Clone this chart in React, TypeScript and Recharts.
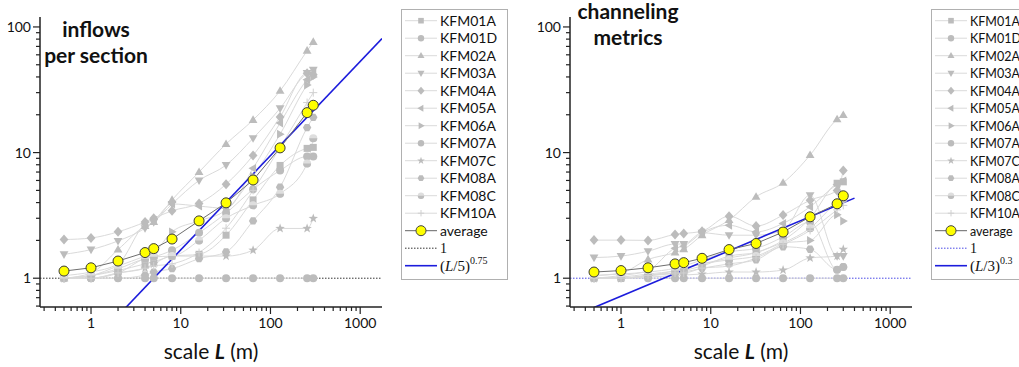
import React from "react";
import { LineChart, Line, XAxis, YAxis, ReferenceLine, Legend } from "recharts";

type Shape =
  | "square"
  | "circle"
  | "triangle"
  | "triangleDown"
  | "diamond"
  | "triangleLeft"
  | "triangleRight"
  | "star"
  | "hexagon"
  | "halfCircle"
  | "plus";

// scale L (m) at which every borehole was evaluated
const scales = [0.5, 1, 2, 4, 5, 8, 16, 32, 64, 128, 256, 300];

const wells = [
  "KFM01A", "KFM01D", "KFM02A", "KFM03A", "KFM04A", "KFM05A",
  "KFM06A", "KFM07A", "KFM07C", "KFM08A", "KFM08C", "KFM10A",
];
const wellShapes: Shape[] = [
  "square", "circle", "triangle", "triangleDown", "diamond", "triangleLeft",
  "triangleRight", "circle", "star", "hexagon", "halfCircle", "plus",
];

// inflows per section
const inflowKFM01A = [1.0, 1.05, 1.15, 1.3, 1.35, 1.5, 1.55, 2.2, 4.2, 7.9, 10.8, 11.0];
const inflowKFM01D = [1.0, 1.0, 1.1, 1.43, 1.48, 1.67, 2.3, 3.3, 5.1, 7.2, 9.3, 9.3];
const inflowKFM02A = [1.0, 1.1, 1.69, 2.6, 2.8, 4.2, 7.0, 11.7, 18.2, 31, 64.7, 76];
const inflowKFM03A = [1.55, 1.69, 1.98, 2.5, 2.8, 3.9, 6.0, 7.95, 13, 22.5, 43, 45.6];
const inflowKFM04A = [2.03, 2.09, 2.34, 2.8, 3.0, 3.44, 3.94, 5.6, 9.5, 19.2, 42.8, 41.7];
const inflowKFM05A = [1.05, 1.12, 1.3, 2.7, 2.9, 3.9, 3.75, 3.6, 7.5, 17.2, 38, 43];
const inflowKFM06A = [1.0, 1.05, 1.25, 1.5, 1.6, 2.34, 2.86, 3.5, 6.5, 14, 34.5, 40];
const inflowKFM07A = [1, 1, 1, 1, 1, 1, 1, 1, 1, 1, 1, 1];
const inflowKFM07C = [1.0, 1.0, 1.1, 1.2, 1.3, 1.5, 1.5, 1.5, 1.67, 2.49, 2.49, 2.99];
const inflowKFM08A = [1.0, 1.0, 1.0, 1.06, 1.12, 1.19, 1.43, 1.62, 2.86, 5.3, 15.8, 19.1];
const inflowKFM08C = [1.0, 1.05, 1.19, 1.43, 1.48, 1.5, 2.0, 3.0, 3.8, 4.7, 8.2, 13];
const inflowKFM10A = [1.0, 1.0, 1.1, 1.2, 1.25, 1.3, 1.6, 2.5, 5.0, 11, 25, 30];
const inflowAverage = [1.14, 1.21, 1.37, 1.6, 1.72, 2.05, 2.86, 3.98, 6.05, 10.9, 20.8, 23.8];

// channeling metrics
const channelKFM01A = [1.0, 1.0, 1.05, 1.15, 1.2, 1.3, 1.45, 1.6, 2.0, 3.0, 5.7, 5.85];
const channelKFM01D = [1.05, 1.08, 1.12, 1.2, 1.25, 1.4, 1.62, 1.73, 2.13, 2.8, 1.17, 1.23];
const channelKFM02A = [1.05, 1.1, 1.41, 1.6, 1.7, 2.2, 2.9, 4.45, 5.75, 9.55, 18.4, 19.9];
const channelKFM03A = [1.46, 1.5, 1.64, 1.87, 1.87, 2.3, 2.2, 2.2, 2.4, 4.58, 1.5, 1.5];
const channelKFM04A = [2.01, 2.01, 2.0, 2.23, 2.27, 2.37, 3.12, 2.6, 3.18, 4.18, 5.0, 7.2];
const channelKFM05A = [1.0, 1.05, 1.15, 1.73, 1.8, 2.3, 2.64, 2.34, 2.73, 3.7, 5.58, 5.96];
const channelKFM06A = [1.0, 1.0, 1.05, 1.1, 1.15, 1.25, 1.5, 1.6, 1.9, 2.0, 3.2, 2.85];
const channelKFM07A = [1, 1, 1, 1, 1, 1, 1, 1, 1, 1, 1, 1];
const channelKFM07C = [1.0, 1.0, 1.02, 1.05, 1.06, 1.08, 1.12, 1.12, 1.16, 1.45, 1.5, 1.7];
const channelKFM08A = [1.0, 1.0, 1.05, 1.1, 1.12, 1.2, 1.3, 1.4, 1.78, 1.7, 1.17, 1.23];
const channelKFM08C = [1.0, 1.02, 1.08, 1.15, 1.2, 1.3, 1.4, 1.5, 1.9, 2.5, 4.0, 4.3];
const channelKFM10A = [1.0, 1.0, 1.05, 1.1, 1.1, 1.2, 1.25, 1.45, 1.85, 2.4, 3.5, 3.8];
const channelAverage = [1.12, 1.15, 1.21, 1.3, 1.33, 1.44, 1.69, 1.89, 2.33, 3.08, 3.91, 4.53];

// power-law guides (L / base)^exponent, drawn between two scales
const inflowFit = { base: 5, exponent: 0.75, from: 0.5, to: 1750 };
const channelFit = { base: 3, exponent: 0.3, from: 0.5, to: 400 };

const X_DOMAIN: [number, number] = [0.27, 1750];
const Y_DOMAIN: [number, number] = [0.59, 120];

const SANS = "Lato, 'Open Sans', sans-serif";
const SERIF = "'Liberation Serif', 'DejaVu Serif', serif";
const INK = "#111";
const AXIS = "#222";
const GREY = "#bcbcbc";
const LINE_GREY = "#dadada";
const BLUE = "#1c1cdc";

const logTicks = (lo: number, hi: number) => {
  const out: number[] = [];
  for (let e = Math.floor(Math.log10(lo)); e <= Math.ceil(Math.log10(hi)); e++) {
    for (let m = 1; m <= 9; m++) {
      const v = m * Math.pow(10, e);
      if (v >= lo && v <= hi) out.push(v);
    }
  }
  return out;
};
const xTicks = logTicks(X_DOMAIN[0], X_DOMAIN[1]);
const yTicks = logTicks(Y_DOMAIN[0], Y_DOMAIN[1]);
const isDecade = (v: number) => Math.abs(Math.log10(v) - Math.round(Math.log10(v))) < 1e-6;

function buildRows(series: number[][], average: number[]) {
  return scales.map((L, i) => {
    const row: Record<string, number> = { L, average: average[i] };
    wells.forEach((w, k) => (row[w] = series[k][i]));
    return row;
  });
}

function fitLine(fit: { base: number; exponent: number; from: number; to: number }) {
  return [fit.from, fit.to].map((L) => ({ L, fit: Math.pow(L / fit.base, fit.exponent) }));
}

const pts = (list: number[][], x: number, y: number, s: number) =>
  list.map(([a, b]) => `${x + a * s},${y + b * s}`).join(" ");

function Marker({ shape, x, y, s = 1 }: { shape: Shape; x: number; y: number; s?: number }) {
  switch (shape) {
    case "square":
      return <rect x={x - 3.5 * s} y={y - 3.5 * s} width={7 * s} height={7 * s} fill={GREY} />;
    case "circle":
      return <circle cx={x} cy={y} r={4 * s} fill={GREY} />;
    case "triangle":
      return <polygon points={pts([[0, -4.6], [4.4, 3], [-4.4, 3]], x, y, s)} fill={GREY} />;
    case "triangleDown":
      return <polygon points={pts([[0, 4.6], [4.4, -3], [-4.4, -3]], x, y, s)} fill={GREY} />;
    case "triangleLeft":
      return <polygon points={pts([[-4.6, 0], [3, 4.4], [3, -4.4]], x, y, s)} fill={GREY} />;
    case "triangleRight":
      return <polygon points={pts([[4.6, 0], [-3, 4.4], [-3, -4.4]], x, y, s)} fill={GREY} />;
    case "diamond":
      return <polygon points={pts([[0, -5], [4.4, 0], [0, 5], [-4.4, 0]], x, y, s)} fill={GREY} />;
    case "hexagon": {
      const hex = [0, 1, 2, 3, 4, 5].map((k) => [4.2 * Math.cos((k * Math.PI) / 3), 4.2 * Math.sin((k * Math.PI) / 3)]);
      return <polygon points={pts(hex, x, y, s)} fill={GREY} />;
    }
    case "halfCircle":
      return (
        <g>
          <circle cx={x} cy={y} r={4 * s} fill="#dedede" />
          <path d={`M${x - 4 * s},${y} A${4 * s},${4 * s} 0 0 0 ${x + 4 * s},${y} Z`} fill={GREY} />
        </g>
      );
    case "star": {
      const star: number[][] = [];
      for (let k = 0; k < 10; k++) {
        const r = k % 2 === 0 ? 5 : 2;
        const a = -Math.PI / 2 + (k * Math.PI) / 5;
        star.push([r * Math.cos(a), r * Math.sin(a)]);
      }
      return <polygon points={pts(star, x, y, s)} fill={GREY} />;
    }
    case "plus":
      return (
        <g stroke="#d0d0d0" strokeWidth={1}>
          <line x1={x - 4 * s} x2={x + 4 * s} y1={y} y2={y} />
          <line x1={x} x2={x} y1={y - 4 * s} y2={y + 4 * s} />
        </g>
      );
  }
  return null;
}

const XTick = (props: any) => {
  const { x, y, payload } = props;
  const v = payload.value as number;
  const major = isDecade(v);
  return (
    <g>
      <line x1={x} x2={x} y1={y} y2={y + (major ? 7 : 4)} stroke={AXIS} strokeWidth={1.2} />
      {major && (
        <text x={x} y={y + 21} textAnchor="middle" fontSize={14} fontFamily={SANS} fill={INK}>
          {Math.round(v)}
        </text>
      )}
    </g>
  );
};

const YTick = (props: any) => {
  const { x, y, payload } = props;
  const v = payload.value as number;
  const major = isDecade(v);
  return (
    <g>
      <line x1={x - (major ? 7 : 4)} x2={x} y1={y} y2={y} stroke={AXIS} strokeWidth={1.2} />
      {major && (
        <text x={x - 9} y={y + 5} textAnchor="end" fontSize={14} fontFamily={SANS} fill={INK}>
          {Math.round(v)}
        </text>
      )}
    </g>
  );
};

const AxisTitle = (props: any) => {
  const { x, y, width } = props.viewBox;
  return (
    <text x={x + width / 2} y={y + 52} textAnchor="middle" fontSize={21} fontFamily={SANS} fill={INK}>
      <tspan>scale{"\u00a0"}</tspan>
      <tspan fontWeight={700} fontStyle="italic">L</tspan>
      <tspan>{"\u00a0"}(m)</tspan>
    </text>
  );
};

const ROW = 17.5;

function LegendBox({
  unityStroke,
  fitBase,
  fitExponent,
  fontSize,
}: {
  unityStroke: string;
  fitBase: number;
  fitExponent: number;
  fontSize: number;
}) {
  const rowY = (i: number) => 11.7 + i * ROW;
  return (
    <svg width={108} height={271} style={{ display: "block" }}>
      <rect x={0.5} y={0.5} width={106} height={270} fill="#fff" stroke="#b0b0b0" />
      {wells.map((w, i) => (
        <g key={w}>
          <line x1={4} x2={36} y1={rowY(i)} y2={rowY(i)} stroke={LINE_GREY} />
          <Marker shape={wellShapes[i]} x={20} y={rowY(i)} s={0.8} />
          <text x={39} y={rowY(i) + 5} fontSize={fontSize} fontFamily={SANS} fill={INK}>
            {w}
          </text>
        </g>
      ))}
      <line x1={4} x2={36} y1={rowY(12)} y2={rowY(12)} stroke="#666" />
      <circle cx={20} cy={rowY(12)} r={5} fill="#ffff00" stroke="#444" />
      <text x={39} y={rowY(12) + 5} fontSize={fontSize} fontFamily={SANS} fill={INK}>
        average
      </text>
      <line x1={4} x2={36} y1={rowY(13)} y2={rowY(13)} stroke={unityStroke} strokeDasharray="1.5 1.5" />
      <text x={39} y={rowY(13) + 5} fontSize={14} fontFamily={SERIF} fill={INK}>
        1
      </text>
      <line x1={4} x2={36} y1={rowY(14)} y2={rowY(14)} stroke={BLUE} strokeWidth={1.6} />
      <text x={39} y={rowY(14) + 5} fontSize={15} fontFamily={SERIF} fill={INK}>
        <tspan>(</tspan>
        <tspan fontStyle="italic">L</tspan>
        <tspan>/{fitBase})</tspan>
        <tspan fontSize={10} dy={-7}>{fitExponent}</tspan>
      </text>
    </svg>
  );
}

function Panel({
  left,
  series,
  average,
  fit,
  unityStroke,
  titles,
  legendFont,
}: {
  left: number;
  series: number[][];
  average: number[];
  fit: { base: number; exponent: number; from: number; to: number };
  unityStroke: string;
  titles: { text: string; y: number }[];
  legendFont: number;
}) {
  const rows = buildRows(series, average);
  const fitRows = fitLine(fit);
  const titleX = left === 0 ? 96 : 98;
  return (
    <div style={{ position: "absolute", left, top: 0, width: 520, height: 367 }}>
      <LineChart width={520} height={367} data={rows} margin={{ top: 17, right: 138, bottom: 0, left: 0 }}>
        <XAxis
          dataKey="L"
          type="number"
          scale="log"
          domain={X_DOMAIN}
          allowDataOverflow
          ticks={xTicks}
          interval={0}
          tick={<XTick />}
          tickLine={false}
          tickSize={0}
          tickMargin={0}
          height={60}
          axisLine={{ stroke: AXIS, strokeWidth: 1.5 }}
          label={<AxisTitle />}
        />
        <YAxis
          type="number"
          scale="log"
          domain={Y_DOMAIN}
          allowDataOverflow
          ticks={yTicks}
          interval={0}
          tick={<YTick />}
          tickLine={false}
          tickSize={0}
          tickMargin={0}
          width={40}
          axisLine={{ stroke: AXIS, strokeWidth: 1.5 }}
        />
        <Legend
          layout="vertical"
          align="center"
          verticalAlign="middle"
          wrapperStyle={{ left: 401, top: 9, width: 108, height: 271 }}
          content={() => (
            <LegendBox unityStroke={unityStroke} fitBase={fit.base} fitExponent={fit.exponent} fontSize={legendFont} />
          )}
        />
        <ReferenceLine y={1} stroke={unityStroke} strokeDasharray="1.5 1.5" strokeWidth={1} />
        {wells.map((w, k) => (
          <Line
            key={w}
            dataKey={w}
            type="monotone"
            stroke={LINE_GREY}
            strokeWidth={1}
            isAnimationActive={false}
            dot={(p: any) => <Marker key={`${w}-${p.index}`} shape={wellShapes[k]} x={p.cx} y={p.cy} />}
            activeDot={false}
          />
        ))}
        <Line
          data={fitRows}
          dataKey="fit"
          type="linear"
          stroke={BLUE}
          strokeWidth={1.6}
          dot={false}
          activeDot={false}
          isAnimationActive={false}
        />
        <Line
          dataKey="average"
          type="linear"
          stroke="#6e6e6e"
          strokeWidth={1}
          dot={{ r: 5, fill: "#ffff00", stroke: "#3a3a3a", strokeWidth: 1 }}
          activeDot={false}
          isAnimationActive={false}
        />
      </LineChart>
      <svg width={520} height={80} style={{ position: "absolute", left: 0, top: 0, pointerEvents: "none" }}>
        {titles.map((t) => (
          <text key={t.text} x={titleX} y={t.y} textAnchor="middle" fontSize={21} fontWeight={700} fontFamily={SANS} fill={INK}>
            {t.text}
          </text>
        ))}
      </svg>
    </div>
  );
}

export default function App() {
  return (
    <div
      style={{
        position: "absolute",
        left: 0,
        top: 0,
        width: 1019,
        height: 367,
        overflow: "hidden",
        background: "#fff",
      }}
    >
      <Panel
        left={0}
        series={[
          inflowKFM01A, inflowKFM01D, inflowKFM02A, inflowKFM03A, inflowKFM04A, inflowKFM05A,
          inflowKFM06A, inflowKFM07A, inflowKFM07C, inflowKFM08A, inflowKFM08C, inflowKFM10A,
        ]}
        average={inflowAverage}
        fit={inflowFit}
        unityStroke="#333"
        legendFont={14}
        titles={[
          { text: "inflows", y: 37 },
          { text: "per section", y: 63 },
        ]}
      />
      <Panel
        left={530}
        series={[
          channelKFM01A, channelKFM01D, channelKFM02A, channelKFM03A, channelKFM04A, channelKFM05A,
          channelKFM06A, channelKFM07A, channelKFM07C, channelKFM08A, channelKFM08C, channelKFM10A,
        ]}
        average={channelAverage}
        fit={channelFit}
        unityStroke="#4a4ae6"
        legendFont={12.5}
        titles={[
          { text: "channeling", y: 19 },
          { text: "metrics", y: 45 },
        ]}
      />
    </div>
  );
}
